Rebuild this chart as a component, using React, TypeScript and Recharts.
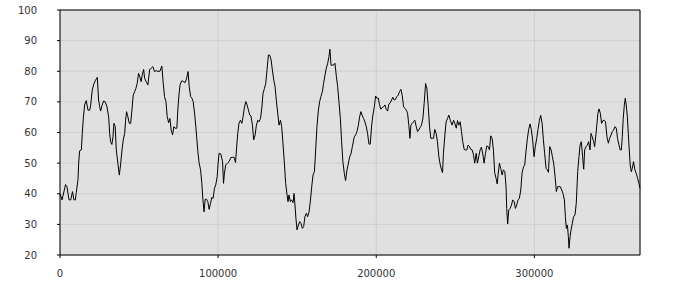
import { CartesianGrid, Line, LineChart, ReferenceLine, XAxis, YAxis } from "recharts";

// [time, value] readings, split by stretch of the trace
const segA: [number, number][] = [
  [0, 40], [1300, 38], [3500, 43], [4400, 42.3], [5700, 38], [6800, 38], [7900, 40.7], [8800, 38], [9700, 38], [10300, 40.4],
  [11400, 44.7], [11800, 50], [12400, 54], [13500, 54.3], [14100, 59.7], [14800, 65], [15600, 69], [16600, 70.4], [17700, 67.3], [18800, 67.3],
  [19400, 69], [20400, 73.9], [21500, 76], [22500, 77.1], [23600, 78], [24400, 70.6], [25100, 68.4], [25700, 67], [26500, 68.7], [27600, 70.3],
  [28600, 70], [29700, 68.4], [30800, 65], [31400, 59.7], [32000, 57], [32800, 56.1], [33500, 58.6], [34100, 63], [34900, 62], [35600, 54.3],
  [36600, 50], [37500, 46.1], [38300, 49.4], [39200, 54.3], [40000, 57.6], [40900, 59.7], [41500, 64], [42100, 66.8], [42900, 65.2], [43800, 63],
  [44700, 63], [45500, 67.3], [46300, 72.2], [47200, 73.3], [48000, 74.4], [48800, 76], [49700, 79.3], [50500, 78.2], [51300, 76.6], [52000, 78.8],
  [52900, 80.6], [53500, 77.7], [54500, 76.6], [55600, 75.5], [56700, 80.6], [57700, 81], [58700, 81.5], [59800, 79.9], [60800, 80.2],
];

const segB: [number, number][] = [
  [61900, 80], [63200, 80], [64400, 81.7], [65200, 76.6], [66100, 71.7], [67000, 70.1], [67800, 65.2], [68700, 63.2], [69500, 64.6], [70300, 60.8],
  [71200, 59.2], [72000, 61.9], [72800, 61.4], [73900, 61.4], [74500, 67.3], [75200, 72.2], [76000, 75.8], [77100, 76.9], [78100, 76.6], [79100, 76.3],
  [80000, 77.5], [81000, 79.9], [81700, 75], [82600, 71.7], [83400, 71.2], [84200, 70.1], [85100, 66.3], [85900, 61.9], [86500, 58.1], [87200, 53.7],
  [88000, 50], [88900, 47.8], [89700, 43.4], [90300, 38.5], [91100, 34.1], [91800, 38.2], [92700, 38.2], [93500, 37.4], [94300, 34.9], [95200, 36.9],
  [96000, 38.8], [96800, 38.5], [97700, 41.8], [98500, 42.9], [99400, 45.6], [100000, 50], [100600, 53.2], [101700, 53], [102800, 50.5], [103400, 43.4],
  [104000, 46.7], [104800, 49.4], [105900, 50], [106900, 50.5], [108000, 51.8], [109100, 51.9], [110100, 51.9], [111000, 50.2], [111800, 55.9], [112400, 59.7],
  [113200, 63], [114100, 64], [115000, 63], [115800, 65.2], [116700, 68.4], [117500, 70.1], [118300, 69], [119200, 67.3], [120000, 65.7], [120800, 65.4],
  [121700, 62.4], [122500, 57.6],
];

const segC: [number, number][] = [
  [123400, 59.2], [124200, 62.4], [125100, 64], [125900, 63.5], [126800, 64.6], [127600, 67.9], [128400, 72.8], [129300, 74.4], [130100, 76], [130900, 80.4],
  [131800, 85.3], [132600, 85.3], [133500, 83.7], [134300, 80.4], [135200, 77.1], [136000, 75], [136900, 70.1], [137700, 66.3], [138500, 62.4], [139400, 64],
  [140200, 61.9], [141000, 56.5], [141900, 50], [142700, 43.4], [143600, 39.6], [144200, 37.4], [144800, 39.6], [145700, 37.4], [146500, 38], [147400, 37.1],
  [148000, 40.1], [148600, 36.3], [149200, 32], [149900, 28.2], [150800, 29.8], [151600, 30.9], [152400, 30.3], [153300, 28.7], [154100, 29.3], [154900, 32.5],
  [155800, 33.6], [156600, 32.5], [157500, 34.1], [158300, 37.4], [159200, 42.3], [160000, 46.1], [160900, 47.2], [161700, 54.3], [162500, 61.9], [163400, 67.3],
  [164200, 70.1], [165000, 71.7], [165900, 73.3], [166700, 76], [167600, 78.8], [168400, 81], [169300, 82.6], [170100, 84.8], [170700, 87.2], [171400, 82],
  [172200, 82], [173100, 82], [173900, 82.6], [174800, 78.2], [175600, 75], [176400, 70.1], [177300, 64.6], [178100, 57], [178900, 50.5], [179800, 46.7],
  [180600, 44.3], [181500, 47.8], [182300, 49.7], [183200, 52.1], [184000, 53], [184900, 55.4],
];

const segD: [number, number][] = [
  [186100, 58.6], [187000, 59.2], [187800, 60.3], [188700, 62.4], [189500, 65.2], [190300, 66.8], [191200, 65.4], [192000, 64.6], [192800, 63.5], [193700, 61.9],
  [194500, 59.7], [195400, 56.2], [196200, 56.2], [197100, 62.4], [197900, 65.7], [198800, 68.4], [199600, 71.9], [200400, 71.2], [201300, 71.2], [202100, 69],
  [202900, 67.6], [203800, 68.2], [204600, 68.4], [205500, 69], [206300, 67.6], [207200, 67], [208000, 69.3], [208900, 69.7], [209700, 70.6], [210500, 71.5],
  [211400, 70.6], [212200, 70.8], [213000, 71.7], [213900, 72.2], [214700, 73.3], [215600, 74.1], [216400, 72.2], [217300, 68.4], [218100, 67.9], [219000, 67.3],
  [219800, 66.3], [220600, 62.4], [221300, 58.1], [221900, 62.4], [222800, 63], [223600, 63.5], [224400, 64], [225300, 61.9], [226100, 60.3], [226900, 60.8],
  [227800, 61.7], [228600, 62.4], [229500, 64.6], [230300, 69.5], [231200, 76], [232000, 74.4], [232900, 68.4], [233700, 61.9], [234500, 58.1], [235400, 58.1],
  [236200, 58.1], [237000, 61], [237900, 59.7], [238700, 57], [239600, 52.1], [240500, 49.4], [241300, 47.8], [241900, 46.9], [242500, 53.2], [243400, 59.2],
  [244200, 63.5], [245100, 64.6], [245900, 65.7], [246800, 64],
];

const segE: [number, number][] = [
  [248000, 62.4], [248900, 64], [249700, 63], [250600, 61.4], [251400, 63.9], [252200, 62.4], [253100, 63.5], [253900, 60.3], [254700, 57], [255600, 54.5],
  [256400, 54.3], [257300, 54.3], [258100, 55.9], [259000, 55.4], [259800, 54.5], [260700, 54.3], [261500, 52.7], [262300, 50], [263200, 53.2], [264000, 50],
  [264800, 52.1], [265700, 54.3], [266500, 55.2], [267400, 53], [268200, 50], [269100, 53.2], [269900, 55.6], [270800, 55.4], [271600, 54.3], [272400, 58.9],
  [273300, 58.1], [274100, 54.3], [274900, 46.9], [275800, 45], [276500, 43.2], [277100, 46.4], [277900, 50], [278700, 48.3], [279600, 46.1], [280400, 47.8],
  [281300, 47.2], [282100, 42.3], [282500, 35.2], [283100, 30.1], [283800, 34.7], [284700, 35.2], [285500, 36.3], [286300, 38], [287200, 37.4], [288000, 35.2],
  [288800, 36.3], [289700, 38], [290500, 38.5], [291400, 41.2], [292200, 46.7], [293100, 48.8], [293900, 49.4], [294800, 54.3], [295600, 58.1], [296400, 61],
  [297300, 62.8], [298100, 60.8], [298900, 57.6], [299800, 52.1], [300600, 55.4], [301500, 58.1], [302300, 61], [303200, 64], [304000, 65.6], [304900, 63],
  [305700, 57.6], [306500, 53.2], [307400, 48.3], [308200, 47.8], [308900, 47],
];

const segF: [number, number][] = [
  [309700, 55.4], [310600, 54.3], [311400, 52.1], [312200, 50], [313100, 45.6], [313900, 40.7], [314700, 42.3], [315600, 42.3], [316400, 42.3], [317300, 41.2],
  [318100, 40.1], [319000, 38], [319600, 32.5], [320200, 28.7], [320900, 29.8], [321500, 26], [321900, 22.2], [322600, 26], [323200, 28.2], [324000, 30.3],
  [324800, 32.5], [325700, 33.1], [326500, 36.9], [327400, 47.2], [328200, 52.1], [328900, 55.9], [329700, 57], [330500, 52.1], [331200, 48], [331800, 54.3],
  [332700, 55.4], [333500, 55.9], [334300, 57], [335200, 54.3], [335800, 59.7], [336600, 58.6], [337500, 57], [338100, 55.4], [339000, 59.7], [339600, 63],
  [340200, 66.3], [340900, 67.7], [341700, 66.3], [342500, 63], [343400, 63.9], [344200, 64], [345000, 63.5], [345900, 58.6], [346800, 56.5], [347600, 58.1],
  [348500, 59.2], [349300, 60.3], [350100, 60.8], [351000, 61.9], [351800, 61.4], [352600, 58.1], [353500, 55.9], [354300, 54.3], [355000, 54.3], [355600, 58.6],
  [356200, 64.6], [356900, 69], [357500, 71.2], [358100, 69], [358800, 65.2], [359400, 59.7], [360000, 54.3], [360600, 49.4], [361300, 47.2], [361900, 48.3],
  [362700, 50.5], [363600, 47.8], [364400, 46.7], [365300, 45], [366100, 43.4], [366800, 41.8],
];

const xTicks = [0, 100000, 200000, 300000];
const yTicks = [20, 30, 40, 50, 60, 70, 80, 90, 100];

const data = [...segA, ...segB, ...segC, ...segD, ...segE, ...segF].map(([t, v]) => ({ t, v }));

const tickStyle = { fill: "#333", fontSize: 10, fontFamily: "DejaVu Sans" };

export default function App() {
  return (
    <div style={{ position: "absolute", left: 0, top: 0, background: "#fff" }}>
      <LineChart width={700} height={300} data={data} margin={{ top: 10, right: 0, bottom: 0, left: 0 }}>
        <CartesianGrid fill="#e0e0e0" fillOpacity={1} stroke="#cfcfcf" />
        <XAxis
          dataKey="t"
          type="number"
          domain={[0, "dataMax"]}
          ticks={xTicks}
          height={45}
          tick={tickStyle}
          tickSize={3}
          tickMargin={12}
          stroke="#000"
        />
        <YAxis
          domain={[20, 100]}
          ticks={yTicks}
          width={60}
          tick={tickStyle}
          tickSize={3}
          tickMargin={20}
          stroke="#000"
        />
        <YAxis
          yAxisId="r"
          orientation="right"
          domain={[20, 100]}
          ticks={yTicks}
          width={60}
          tick={tickStyle}
          tickSize={3}
          tickMargin={18}
          stroke="#000"
        />
        <ReferenceLine y={100} stroke="#000" />
        <Line type="linear" dataKey="v" stroke="#000" strokeWidth={1} dot={false} isAnimationActive={false} />
      </LineChart>
    </div>
  );
}
